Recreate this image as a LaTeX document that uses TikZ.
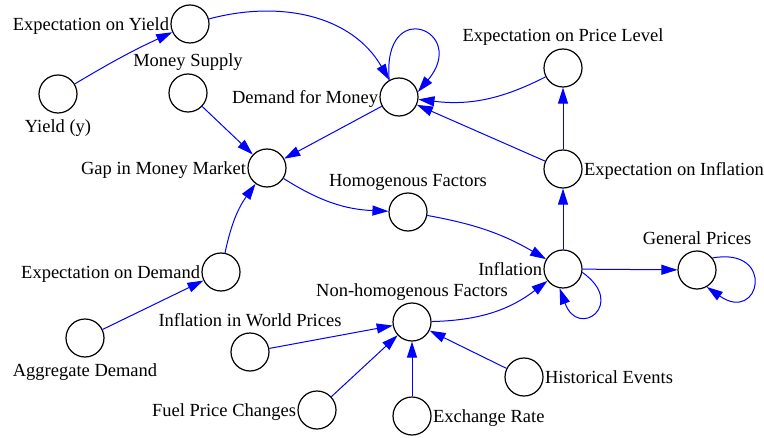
\documentclass[tikz,border=0pt]{standalone}
\usepackage{fontspec}
\setmainfont{Liberation Serif}
\usetikzlibrary{arrows.meta}

\begin{document}
\begin{tikzpicture}[x=0.5pt, y=0.5pt, font=\rmfamily\fontsize{9.25pt}{11pt}\selectfont,
        var/.style={draw, circle, line width=0.6pt, minimum size=19pt, inner sep=0pt},
        link/.style={draw=blue, line width=0.5pt, -{Triangle[length=8pt, width=5pt]}},
        every label/.style={inner xsep=0.5pt, inner ysep=3pt, text depth=0pt},
        label distance=0pt]
        \useasboundingbox (0,0) rectangle (764,-438);

        % money market
        \node[var, label=left:Expectation on Yield] (eyield) at (190,-24) {};
        \node[var, label=below:Yield (y)] (yield) at (58,-94) {};
        \node[var, label=above:Money Supply] (msupply) at (188,-93) {};
        \node[var, label=left:Demand for Money] (dmoney) at (399,-97) {};
        \node[var, label=left:Gap in Money Market] (gap) at (267,-168) {};
        \node[var, label=left:Expectation on Demand] (edemand) at (221,-272) {};
        \node[var, label=below:Aggregate Demand] (aggd) at (85,-338) {};

        % expectations
        \node[var, label=above:Expectation on Price Level] (eprice) at (563,-68) {};
        \node[var, label=right:Expectation on Inflation] (einfl) at (563,-169) {};

        % inflation and its factors
        \node[var, label=above:Homogenous Factors] (homog) at (408,-212) {};
        \node[var, label=left:Inflation] (infl) at (563,-269) {};
        \node[var, label=above:General Prices] (gprices) at (697,-270) {};
        \node[var, label=above:Non-homogenous Factors] (nonhomog) at (412,-322) {};
        \node[var, label=above:Inflation in World Prices] (worldp) at (250,-352) {};
        \node[var, label=left:Fuel Price Changes] (fuel) at (317,-410) {};
        \node[var, label=right:Exchange Rate] (exrate) at (412,-416) {};
        \node[var, label=right:Historical Events] (hist) at (524,-377) {};

        \draw[link] (yield) to[bend left=3] (eyield);
        \draw[link] (eyield) to[out=15, in=120] (dmoney);
        \draw[link] (dmoney.120) .. controls +(95:85) and +(50:80) .. (dmoney.15);
        \draw[link] (msupply) -- (gap);
        \draw[link] (dmoney) -- (gap);
        \draw[link] (eprice) to[bend left=17] (dmoney);
        \draw[link] (einfl) -- (dmoney);
        \draw[link] (einfl) -- (eprice);
        \draw[link] (infl) -- (einfl);
        \draw[link] (gap) to[bend right=15] (homog);
        \draw[link] (homog) to[bend left=10] (infl);
        \draw[link] (aggd) -- (edemand);
        \draw[link] (edemand) to[bend left=12] (gap);
        \draw[link] (nonhomog) to[bend right=18] (infl);
        \draw[link] (infl.-10) .. controls +(-35:55) and +(-70:55) .. (infl.-100);
        \draw[link] (infl) -- (gprices);
        \draw[link] (gprices.38) .. controls +(10:65) and +(-35:65) .. (gprices.-60);

        \draw[link] (worldp) -- (nonhomog);
        \draw[link] (fuel) -- (nonhomog);
        \draw[link] (exrate) -- (nonhomog);
        \draw[link] (hist) -- (nonhomog);
\end{tikzpicture}
\end{document}
